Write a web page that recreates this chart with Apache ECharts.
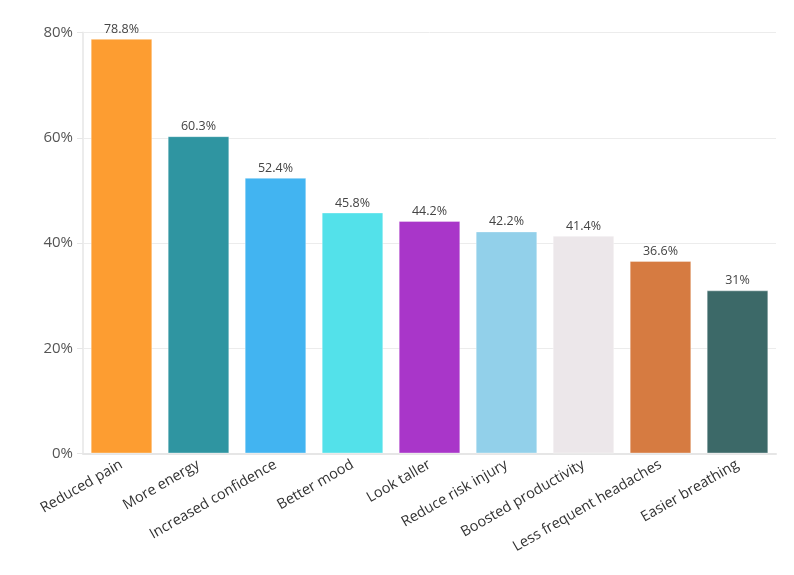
<!DOCTYPE html>
<html><head><meta charset="utf-8">
<script src="https://cdn.jsdelivr.net/npm/echarts@6/dist/echarts.min.js"></script>
<style>html,body{margin:0;padding:0;background:#fff}#c{width:794px;height:575px}</style>
</head><body><div id="c"></div>
<script>
var categories = ["Reduced pain","More energy","Increased confidence","Better mood","Look taller","Reduce risk injury","Boosted productivity","Less frequent headaches","Easier breathing"];
var values = [78.8,60.3,52.4,45.8,44.2,42.2,41.4,36.6,31];
var colors = ["#fd9d31","#2f95a1","#42b4f1","#53e1ea","#a936c9","#92d0ea","#ece7ea","#d67b41","#3c6968"];
var yTicks = [0,20,40,60,80];
var chart = echarts.init(document.getElementById('c'));
chart.setOption({
  animation:false,
  textStyle:{fontFamily:"Open Sans"},
  grid:{left:83,right:18,top:32.5,bottom:121.5},
  xAxis:{type:'category',data:categories,
    axisLine:{lineStyle:{color:'#e6e6e6',width:2}},
    axisTick:{alignWithLabel:true,length:6,lineStyle:{color:'#e6e6e6'}},
    axisLabel:{rotate:30,fontSize:14.5,color:'#333',margin:10,interval:0}},
  yAxis:{type:'value',min:yTicks[0],max:yTicks[yTicks.length-1],interval:20,
    axisLine:{show:true,lineStyle:{color:'#ececec',width:2}},
    axisTick:{show:true,length:6,lineStyle:{color:'#e6e6e6'}},
    splitLine:{lineStyle:{color:'#ececec',width:1}},
    axisLabel:{formatter:'{value}%',fontSize:15,color:'#555',margin:10}},
  series:[{type:'bar',barCategoryGap:'20%',
    data:values.map(function(v,i){return {value:v,itemStyle:{color:colors[i],borderColor:'rgba(255,255,255,0.35)',borderWidth:1}};}),
    label:{show:true,position:'top',formatter:'{c}%',fontSize:12.5,color:'#444',distance:3}}]
});
</script></body></html>
